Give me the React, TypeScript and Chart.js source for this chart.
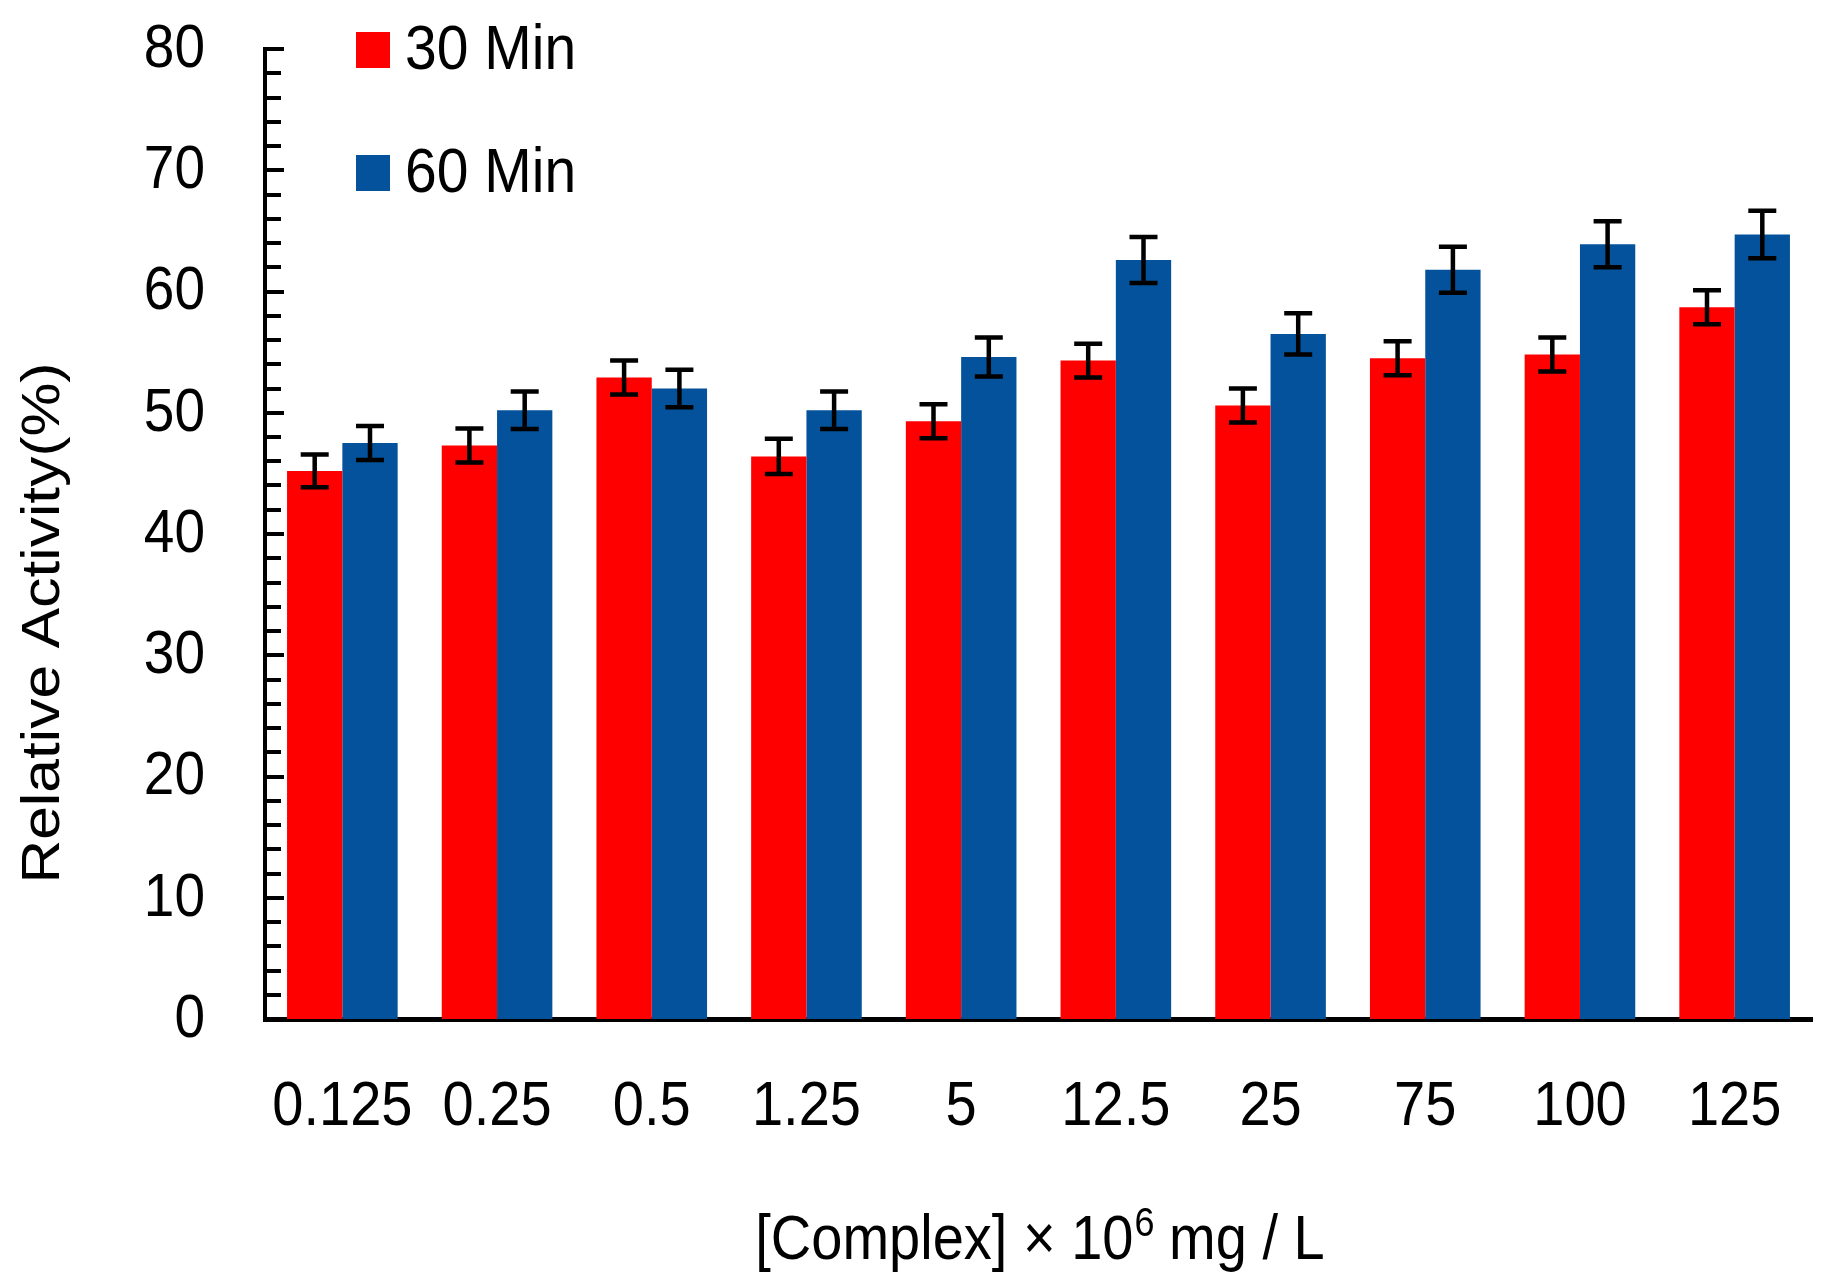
import React, { useEffect, useRef } from 'react';
import { Chart, registerables } from 'chart.js';

Chart.register(...registerables);

// concentrations on the x axis ([Complex] x 10^6 mg / L)
const concentrations = ['0.125', '0.25', '0.5', '1.25', '5', '12.5', '25', '75', '100', '125'];

// relative activity (%) after 30 and 60 minutes
const activity30 = [45.2, 47.3, 52.9, 46.4, 49.3, 54.3, 50.6, 54.5, 54.8, 58.7];
const activity60 = [47.5, 50.2, 52.0, 50.2, 54.6, 62.6, 56.5, 61.8, 63.9, 64.7];

// error bar half-heights
const error30 = [1.35, 1.4, 1.4, 1.45, 1.4, 1.4, 1.4, 1.4, 1.4, 1.4];
const error60 = [1.4, 1.55, 1.55, 1.55, 1.6, 1.9, 1.7, 1.9, 1.9, 1.95];

// y axis range and ticks
const yMin = 0;
const yMax = 80;
const yStep = 10;
const yMinorStep = 2;

const FONT = "'Liberation Sans', Arial, sans-serif";
const RED = '#FF0000';
const BLUE = '#03529B';
// the original text looks a bit taller than it is wide
const STRETCH = 1.12;

const errorsByDataset = [error30, error60];

// draws text scaled vertically (or along its run when rotated)
function stretchedText(ctx: CanvasRenderingContext2D, text: string, x: number, y: number, sx: number, sy: number) {
    ctx.save();
    ctx.translate(x, y);
    ctx.scale(sx, sy);
    ctx.fillText(text, 0, 0);
    ctx.restore();
}

// little tick marks inside the plot + tick labels
const axisMarks = {
    id: 'axisMarks',
    afterDraw(chart: any) {
        const { ctx, chartArea } = chart;
        const y = chart.scales.y;
        const x = chart.scales.x;
        ctx.save();
        ctx.strokeStyle = '#000';
        ctx.lineWidth = 4;
        for (let v = yMin; v <= yMax; v += yMinorStep) {
            const py = Math.round(y.getPixelForValue(v));
            const len = v % yStep === 0 ? 19 : 16;
            ctx.beginPath();
            ctx.moveTo(chartArea.left, py);
            ctx.lineTo(chartArea.left + len, py);
            ctx.stroke();
        }

        ctx.fillStyle = '#000';
        ctx.textBaseline = 'middle';
        ctx.font = `55px ${FONT}`;
        ctx.textAlign = 'right';
        for (let v = yMin; v <= yMax; v += yStep) {
            stretchedText(ctx, String(v), chartArea.left - 60, y.getPixelForValue(v) + 1, 1, STRETCH);
        }
        ctx.font = `56px ${FONT}`;
        ctx.textAlign = 'center';
        chart.data.labels.forEach((lab: string, i: number) => {
            stretchedText(ctx, lab, x.getPixelForValue(i), chartArea.bottom + 89, 1, STRETCH);
        });
        ctx.restore();
    },
};

// error bars with caps on every bar
const errorBars = {
    id: 'errorBars',
    afterDatasetsDraw(chart: any) {
        const { ctx } = chart;
        const y = chart.scales.y;
        ctx.save();
        ctx.strokeStyle = '#000';
        ctx.lineWidth = 4.5;
        chart.data.datasets.forEach((ds: any, i: number) => {
            const meta = chart.getDatasetMeta(i);
            const errs = errorsByDataset[i];
            meta.data.forEach((bar: any, j: number) => {
                const v = ds.data[j] as number;
                const e = errs[j];
                const top = y.getPixelForValue(v + e);
                const bot = y.getPixelForValue(v - e);
                const half = 14;
                ctx.beginPath();
                ctx.moveTo(bar.x, top);
                ctx.lineTo(bar.x, bot);
                ctx.moveTo(bar.x - half, top);
                ctx.lineTo(bar.x + half, top);
                ctx.moveTo(bar.x - half, bot);
                ctx.lineTo(bar.x + half, bot);
                ctx.stroke();
            });
        });
        ctx.restore();
    },
};

// legend in the top-left of the plot + both axis titles
const decorations = {
    id: 'decorations',
    afterDraw(chart: any) {
        const { ctx } = chart;
        ctx.save();

        // legend
        const rows = [50, 173];
        chart.data.datasets.forEach((ds: any, i: number) => {
            const cy = rows[i];
            ctx.fillStyle = ds.backgroundColor;
            ctx.fillRect(356, cy - 18, 34, 36);
            ctx.fillStyle = '#000';
            ctx.font = `57px ${FONT}`;
            ctx.textAlign = 'left';
            ctx.textBaseline = 'middle';
            stretchedText(ctx, ds.label, 405, cy + 1, 1, STRETCH);
        });

        // y title
        ctx.save();
        ctx.translate(44, 623);
        ctx.rotate(-Math.PI / 2);
        ctx.font = `54px ${FONT}`;
        ctx.textAlign = 'center';
        ctx.textBaseline = 'middle';
        stretchedText(ctx, 'Relative Activity(%)', 0, 0, STRETCH, 1);
        ctx.restore();

        // x title with superscript
        const big = `56px ${FONT}`;
        const small = `36px ${FONT}`;
        const partA = '[Complex] × 10';
        const partB = '6';
        const partC = ' mg / L';
        ctx.fillStyle = '#000';
        ctx.textAlign = 'left';
        ctx.textBaseline = 'alphabetic';
        ctx.font = big;
        const wA = ctx.measureText(partA).width;
        const wC = ctx.measureText(partC).width;
        ctx.font = small;
        const wB = ctx.measureText(partB).width;
        const total = wA + wB + wC;
        const baseline = 1259;
        let x = 1040 - total / 2;
        ctx.font = big;
        stretchedText(ctx, partA, x, baseline, 1, STRETCH);
        x += wA;
        ctx.font = small;
        stretchedText(ctx, partB, x + 1, baseline - 23, 1, STRETCH);
        x += wB;
        ctx.font = big;
        stretchedText(ctx, partC, x, baseline, 1, STRETCH);

        ctx.restore();
    },
};

const App: React.FC = () => {
    const canvasRef = useRef<HTMLCanvasElement | null>(null);
    const chartRef = useRef<Chart | null>(null);

    useEffect(() => {
        document.body.style.margin = '0';
        if (!canvasRef.current) return;
        if (chartRef.current) chartRef.current.destroy();

        chartRef.current = new Chart(canvasRef.current, {
            type: 'bar',
            data: {
                labels: concentrations,
                datasets: [
                    {
                        label: '30 Min',
                        data: activity30,
                        backgroundColor: RED,
                        borderWidth: 0,
                        categoryPercentage: 0.715,
                        barPercentage: 1.0,
                    },
                    {
                        label: '60 Min',
                        data: activity60,
                        backgroundColor: BLUE,
                        borderWidth: 0,
                        categoryPercentage: 0.715,
                        barPercentage: 1.0,
                    },
                ],
            },
            options: {
                animation: false,
                responsive: true,
                maintainAspectRatio: false,
                layout: { padding: { top: 49, right: 13, left: 0, bottom: 0 } },
                plugins: {
                    legend: { display: false },
                    tooltip: { enabled: false },
                    title: { display: false },
                },
                scales: {
                    x: {
                        z: 1,
                        grid: { display: false, drawTicks: false },
                        border: { display: true, color: '#000', width: 5 },
                        ticks: { display: false, autoSkip: false },
                        afterFit: (scale: any) => {
                            scale.height = 260;
                        },
                    },
                    y: {
                        z: 1,
                        min: yMin,
                        max: yMax,
                        grid: { display: false, drawTicks: false },
                        border: { display: true, color: '#000', width: 4 },
                        ticks: { display: false, stepSize: yStep },
                        afterFit: (scale: any) => {
                            scale.width = 265;
                        },
                    },
                },
            },
            plugins: [errorBars, axisMarks, decorations],
        });

        return () => {
            if (chartRef.current) {
                chartRef.current.destroy();
                chartRef.current = null;
            }
        };
    }, []);

    return (
        <div style={{ width: 1825, height: 1279, position: 'relative', background: '#fff' }}>
            <canvas ref={canvasRef}></canvas>
        </div>
    );
};

export default App;
